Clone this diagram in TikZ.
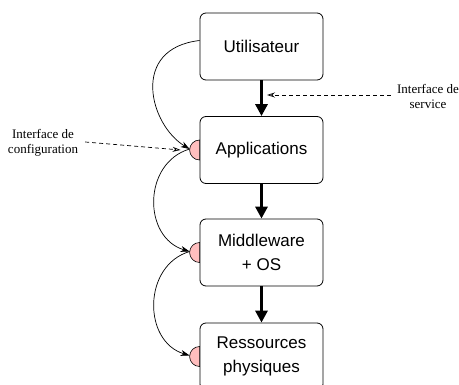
\documentclass[tikz,border=0pt]{standalone}
\usepackage{fontspec}
\setmainfont{Liberation Serif}
\setsansfont{Liberation Sans}
\usetikzlibrary{arrows.meta}
\definecolor{semipink}{RGB}{255,190,190}
\begin{document}
\begin{tikzpicture}[x=1pt,y=-1pt,
  box/.style={draw, rounded corners=6pt, minimum width=123pt, minimum height=67pt,
    font=\sffamily\fontsize{17}{24}\selectfont, align=center, inner sep=0pt, line width=0.8pt},
  flow/.style={line width=3pt, -{Triangle[width=12pt,length=12pt]}},
  curve/.style={line width=0.7pt, -{Stealth[length=9pt,width=6pt]}},
  iface/.style={dashed, line width=0.7pt, dash pattern=on 4pt off 3pt, -{Stealth[open,length=8pt,width=5pt]}},
  lbl/.style={font=\rmfamily\fontsize{13}{15}\selectfont, align=center, inner sep=0pt},
  semi/.style={fill=semipink, draw, line width=0.6pt}
]
\useasboundingbox (0,0) rectangle (459,385);
\node[box] (user) at (261.5,46.5) {Utilisateur};
\node[box] (app) at (261.5,150) {Applications};
\node[box] (mid) at (261.5,252.5) {Middleware\\+ OS};
\node[box] (res) at (261.5,356.5) {Ressources\\physiques};

\draw[flow] (user) -- (app);
\draw[flow] (app) -- (mid);
\draw[flow] (mid) -- (res);

\foreach \n in {app,mid,res}{
  \filldraw[semi] ([yshift=10pt]\n.west) arc[start angle=90,end angle=270,radius=10pt] -- cycle;
}
\coordinate (sa) at ([xshift=-10pt,yshift=1pt]app.west);
\coordinate (sm) at ([xshift=-10pt,yshift=1pt]mid.west);
\coordinate (sr) at ([xshift=-10pt,yshift=1pt]res.west);
\coordinate (u0) at ([yshift=6pt]user.west);

\draw[curve] (u0) .. controls +(-70,8) and +(-40,-24) .. (sa);
\draw[curve] (sa) .. controls +(-47,14) and +(-47,-14) .. (sm);
\draw[curve] (sm) .. controls +(-47,14) and +(-47,-14) .. (sr);

\node[lbl] (cfg) at (43,143) {Interface de\\configuration};
\node[lbl] (srv) at (428,96) {Interface de\\service};
\coordinate (cfgend) at ([xshift=-9pt,yshift=-1pt]sa);
\coordinate (srvend) at (267,95);
\draw[iface] ([xshift=7pt,yshift=1pt]cfg.east) -- (cfgend);
\draw[iface] ([xshift=-6pt,yshift=1pt]srv.west) -- (srvend);
\end{tikzpicture}
\end{document}
